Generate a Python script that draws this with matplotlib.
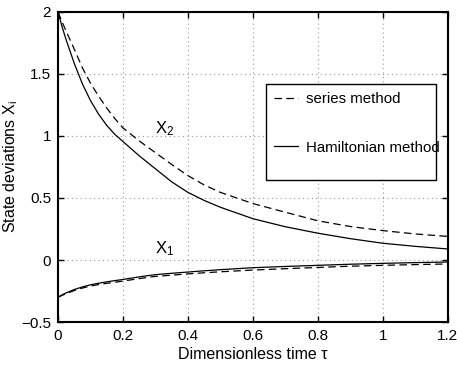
import numpy as np
import matplotlib
matplotlib.use("Agg")
import matplotlib.pyplot as plt
from matplotlib.patches import Rectangle

#-----Data-----#
Tau = [0, 0.0125, 0.025, 0.05, 0.075, 0.1, 0.125, 0.15, 0.175, 0.2, 0.25, 0.3, 0.35, 0.4, 0.45, 0.5,
       0.6, 0.7, 0.8, 0.9, 1.0, 1.1, 1.2]

X2Series = [2.0, 1.92, 1.845, 1.70, 1.55, 1.425, 1.32, 1.225, 1.14, 1.065, 0.96, 0.865, 0.77, 0.68, 0.605, 0.545,
            0.455, 0.385, 0.316, 0.27, 0.237, 0.21, 0.19]
X2Hamilton = [2.0, 1.88, 1.775, 1.585, 1.42, 1.285, 1.175, 1.085, 1.013, 0.955, 0.84, 0.735, 0.63, 0.545, 0.48, 0.425,
              0.333, 0.268, 0.216, 0.172, 0.135, 0.11, 0.089]

X1Series = [-0.3, -0.285, -0.271, -0.246, -0.226, -0.21, -0.198, -0.188, -0.179, -0.17, -0.15, -0.132, -0.122, -0.112,
            -0.103, -0.095, -0.081, -0.07, -0.06, -0.05, -0.043, -0.037, -0.032]
X1Hamilton = [-0.3, -0.281, -0.265, -0.238, -0.217, -0.2, -0.187, -0.176, -0.166, -0.157, -0.136, -0.118, -0.107,
              -0.097, -0.087, -0.078, -0.062, -0.052, -0.043, -0.034, -0.027, -0.021, -0.016]

XTicks = [0, 0.2, 0.4, 0.6, 0.8, 1, 1.2]
XTickLabels = ["0", "0.2", "0.4", "0.6", "0.8", "1", "1.2"]
YTicks = [-0.5, 0, 0.5, 1, 1.5, 2]
YTickLabels = ["\u22120.5", "0", "0.5", "1", "1.5", "2"]

#-----Style-----#
plt.rcParams['font.family'] = ['Liberation Sans', 'DejaVu Sans']
plt.rcParams['mathtext.fontset'] = 'custom'
plt.rcParams['mathtext.rm'] = 'Liberation Sans'
plt.rcParams['mathtext.it'] = 'Liberation Sans'

Fig = plt.figure(figsize=(4.57, 3.74), dpi=100)
Ax = Fig.add_axes([0.127, 0.139, 0.853, 0.829])

Dash = (0, (6, 3.5))
Ax.plot(Tau, X2Series, color="black", lw=0.9, linestyle=Dash, label="series method")
Ax.plot(Tau, X2Hamilton, color="black", lw=0.9, label="Hamiltonian method")
Ax.plot(Tau, X1Series, color="black", lw=0.9, linestyle=Dash)
Ax.plot(Tau, X1Hamilton, color="black", lw=0.9)

Ax.text(0.3, 1.06, r"X$_\mathregular{2}$", fontsize=12, va="center", ha="left")
Ax.text(0.3, 0.09, r"X$_\mathregular{1}$", fontsize=12, va="center", ha="left")

Ax.set_xlim(0, 1.2)
Ax.set_ylim(-0.5, 2)
Ax.set_xticks(XTicks)
Ax.set_xticklabels(XTickLabels)
Ax.set_yticks(YTicks)
Ax.set_yticklabels(YTickLabels)
Ax.tick_params(direction="in", top=True, right=True, length=4, width=1, labelsize=11, pad=5)
Ax.grid(True, linestyle=(0, (1, 3)), color="#999999", lw=0.8)
for Spine in Ax.spines.values():
    Spine.set_linewidth(1.5)

Ax.set_xlabel("Dimensionless time \u03c4", fontsize=11.5, labelpad=3)
Ax.set_ylabel(r"State deviations X$_\mathregular{i}$", fontsize=11.5, labelpad=1)

#legend text without frame, MATLAB-like box drawn separately
Leg = Ax.legend(loc="upper left", bbox_to_anchor=(0.533, 0.768), borderaxespad=0,
                fontsize=10.8, frameon=False,
                handlelength=1.6, handletextpad=0.55, labelspacing=2.3, borderpad=0.55)
Ax.add_patch(Rectangle((0.533, 0.458), 0.436, 0.31, transform=Ax.transAxes,
                       facecolor="white", edgecolor="black", lw=1.0, zorder=4))
Leg.set_zorder(5)

Fig.savefig("out.png", dpi=100)
